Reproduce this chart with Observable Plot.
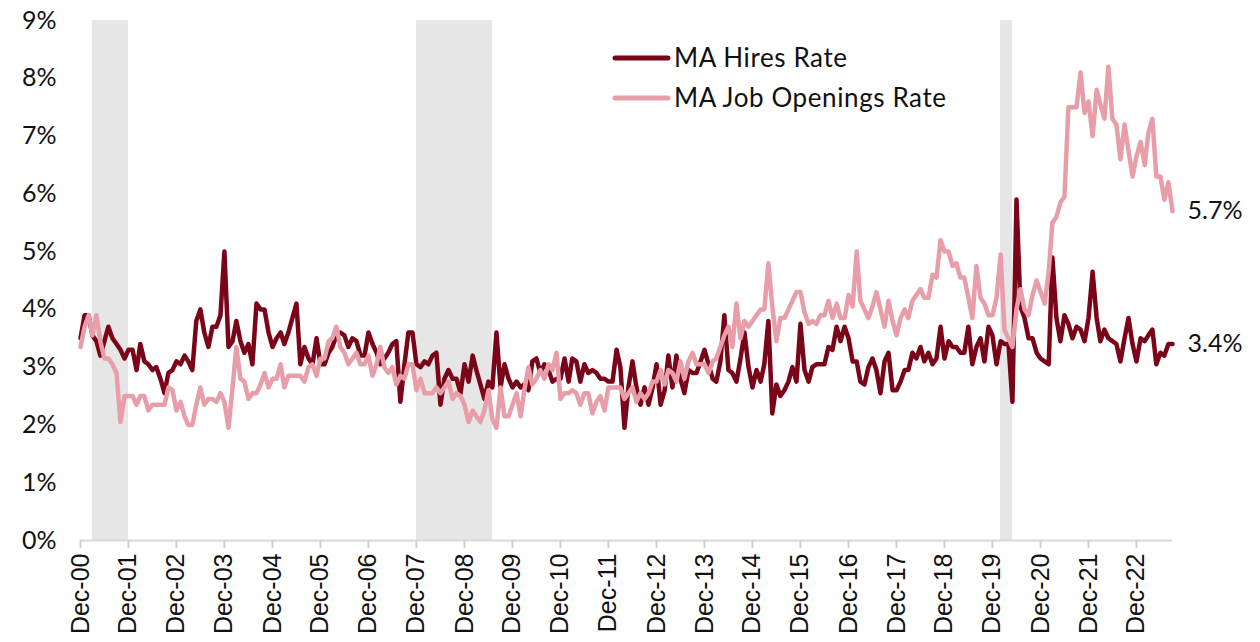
<!DOCTYPE html>
<html>
<head>
<meta charset="utf-8">
<script src="https://cdn.jsdelivr.net/npm/d3@7"></script>
<script src="https://cdn.jsdelivr.net/npm/@observablehq/plot@0.6"></script>
<style>
  body { margin: 0; background: #fff; }
  #chart svg { display: block; }
</style>
</head>
<body>
<div id="chart"></div>
<script>
// Monthly series, starting December 2000
const startYear = 2000, startMonth = 11; // Dec-2000 (0-based month)

const hires = [
  3.5, 3.9, 3.9, 3.55, 3.45, 3.2, 3.45, 3.7, 3.5, 3.4, 3.3, 3.15,
  3.3, 3.3, 2.95, 3.4, 3.1, 3.05, 2.95, 3.0, 2.8, 2.55, 2.9, 2.95,
  3.1, 3.05, 3.2, 3.1, 2.95, 3.8, 4.0, 3.6, 3.35, 3.7, 3.7, 3.9,
  5.0, 3.35, 3.45, 3.8, 3.45, 3.25, 3.4, 3.05, 4.1, 4.0, 4.0, 3.6,
  3.35, 3.5, 3.6, 3.4, 3.6, 3.85, 4.1, 3.05, 3.35, 3.15, 3.05, 3.5,
  3.05, 3.05, 3.25, 3.35, 3.55, 3.6, 3.55, 3.35, 3.5, 3.45, 3.2, 3.2,
  3.6, 3.4, 3.25, 3.05, 3.15, 3.25, 3.4, 3.45, 2.4, 3.05, 3.6, 3.6,
  3.05, 3.0, 3.1, 3.05, 3.2, 3.25, 2.35, 2.8, 2.95, 2.8, 2.8, 2.55,
  3.05, 2.75, 3.2, 2.95, 2.7, 2.45, 2.75, 2.65, 3.6, 2.65, 3.05, 2.8,
  2.65, 2.75, 2.65, 2.7, 2.6, 3.1, 3.15, 2.9, 3.05, 2.95, 2.75, 2.8,
  2.8, 3.15, 2.75, 3.15, 3.1, 2.75, 3.05, 2.9, 2.95, 2.9, 2.8, 2.8,
  2.75, 2.75, 3.3, 3.0, 1.95, 2.65, 3.1, 2.65, 2.35, 2.65, 2.35, 2.65,
  3.05, 2.35, 2.6, 3.2, 2.65, 3.2, 2.8, 2.55, 2.95, 2.9, 2.9, 3.1,
  3.3, 3.05, 2.8, 2.75, 3.1, 3.9, 2.95, 2.9, 2.75, 3.15, 3.6, 3.0,
  2.65, 2.95, 2.75, 3.05, 3.8, 2.2, 2.7, 2.5, 2.6, 2.75, 3.0, 2.75,
  3.75, 2.95, 2.75, 3.0, 3.05, 3.05, 3.05, 3.35, 3.3, 3.7, 3.45, 3.7,
  3.5, 3.1, 3.1, 2.75, 2.7, 3.0, 3.15, 2.95, 2.55, 3.1, 3.25, 2.6,
  2.6, 2.75, 2.95, 2.95, 3.25, 3.15, 3.35, 3.1, 3.25, 3.05, 3.15, 3.7,
  3.15, 3.45, 3.35, 3.35, 3.25, 3.25, 3.7, 3.05, 3.35, 3.5, 3.1, 3.7,
  3.55, 3.05, 3.45, 3.4, 3.4, 2.4, 5.9, 4.05, 3.85, 3.5, 3.5, 3.25,
  3.15, 3.1, 3.05, 4.9, 3.85, 3.45, 3.9, 3.75, 3.5, 3.7, 3.65, 3.45,
  3.85, 4.65, 3.85, 3.45, 3.65, 3.5, 3.45, 3.4, 3.1, 3.5, 3.85, 3.4,
  3.1, 3.5, 3.45, 3.55, 3.65, 3.05, 3.25, 3.2, 3.4, 3.4
];

const openings = [
  3.35, 3.7, 3.9, 3.55, 3.9, 3.45, 3.15, 3.15, 3.05, 2.9, 2.05, 2.5,
  2.5, 2.5, 2.35, 2.5, 2.5, 2.25, 2.35, 2.35, 2.35, 2.35, 2.65, 2.6,
  2.25, 2.4, 2.15, 2.0, 2.0, 2.35, 2.65, 2.35, 2.45, 2.45, 2.4, 2.55,
  2.4, 1.95, 2.65, 3.35, 2.8, 2.75, 2.45, 2.55, 2.55, 2.7, 2.9, 2.65,
  2.8, 2.8, 3.05, 2.65, 2.85, 2.85, 2.85, 2.85, 2.75, 3.0, 3.05, 2.85,
  3.15, 3.15, 3.45, 3.5, 3.7, 3.35, 3.25, 3.05, 3.15, 3.25, 3.05, 3.05,
  3.2, 2.85, 3.05, 3.35, 3.0, 2.9, 3.0, 2.7, 2.85, 2.8, 3.05, 3.05,
  2.6, 2.8, 2.55, 2.55, 2.55, 2.65, 2.55, 2.65, 2.75, 2.45, 2.55, 2.5,
  2.35, 2.05, 2.25, 2.15, 2.05, 2.25, 2.6, 2.1, 1.95, 2.65, 2.15, 2.15,
  2.35, 2.55, 2.15, 2.6, 3.0, 2.7, 2.8, 2.95, 2.8, 3.05, 2.95, 3.25,
  2.45, 2.55, 2.55, 2.6, 2.55, 2.35, 2.55, 2.55, 2.2, 2.4, 2.5, 2.25,
  2.65, 2.65, 2.65, 2.65, 2.45, 2.55, 2.65, 2.4, 2.55, 2.45, 2.55, 2.75,
  2.75, 2.95, 2.7, 2.95, 2.9, 2.75, 3.1, 2.8, 3.1, 3.25, 3.05, 3.05,
  3.05, 2.9, 3.1, 3.15, 3.35, 3.55, 3.7, 3.35, 4.1, 3.5, 3.8, 3.7,
  3.8, 3.9, 4.0, 4.0, 4.8, 4.05, 3.45, 3.85, 3.85, 4.0, 4.15, 4.3,
  4.3, 3.95, 3.75, 3.8, 3.75, 3.9, 3.9, 4.15, 3.85, 4.1, 3.85, 3.85,
  4.25, 4.05, 5.0, 4.15, 4.0, 3.85, 4.05, 4.3, 4.0, 3.7, 4.15, 3.8,
  3.55, 3.85, 4.0, 3.85, 4.15, 4.25, 4.35, 4.2, 4.2, 4.6, 4.55, 5.2,
  5.0, 5.0, 4.75, 4.8, 4.55, 4.55, 4.2, 3.85, 4.75, 4.2, 4.1, 3.9,
  3.9, 4.2, 4.95, 3.65, 3.5, 3.35, 4.0, 4.35, 4.0, 3.9, 4.25, 4.5,
  4.3, 4.1, 4.65, 5.5, 5.6, 5.85, 5.95, 7.5, 7.5, 7.5, 8.1, 7.4,
  7.6, 7.0, 7.8, 7.55, 7.3, 8.2, 7.3, 7.2, 6.6, 7.2, 6.75, 6.3,
  6.65, 6.9, 6.5, 7.05, 7.3, 6.3, 6.3, 5.9, 6.2, 5.7
];

const seriesNames = ["MA Hires Rate", "MA Job Openings Rate"];
const seriesColors = ["#7a0418", "#e89ea8"];

// Recession periods (start month, first month after end)
const recessionStart = ["2001-03", "2007-12", "2020-02"];
const recessionEnd   = ["2001-12", "2009-07", "2020-05"];

// Axis ticks
const yTicks = [0, 1, 2, 3, 4, 5, 6, 7, 8, 9];
const xTickYears = d3.range(2000, 2023);

// ---- build tables ----
const month = i => new Date(Date.UTC(startYear, startMonth + i, 1));
const parseYM = s => { const [y, m] = s.split("-").map(Number); return new Date(Date.UTC(y, m - 1, 1)); };
const hiresData = hires.map((v, i) => ({date: month(i), value: v}));
const openData = openings.map((v, i) => ({date: month(i), value: v}));
const recessions = recessionStart.map((s, i) => ({start: parseYM(s), end: parseYM(recessionEnd[i])}));
const xTicks = xTickYears.map(y => new Date(Date.UTC(y, 11, 1)));
const lastH = hiresData[hiresData.length - 1];
const lastO = openData[openData.length - 1];

const chart = Plot.plot({
  width: 1260,
  height: 642,
  marginLeft: 80,
  marginRight: 88,
  marginTop: 20,
  marginBottom: 102,
  style: {fontFamily: "Lato, 'DejaVu Sans', sans-serif", fontSize: "24px", color: "#111", background: "#fff"},
  x: {type: "utc", domain: [hiresData[0].date, lastH.date]},
  y: {domain: [0, 9]},
  marks: [
    Plot.rect(recessions, {x1: "start", x2: "end", y1: 0, y2: 9, fill: "#e6e6e6"}),
    Plot.ruleY([0], {stroke: "#d9d9d9", strokeWidth: 2}),
    Plot.axisX({
      ticks: xTicks,
      tickFormat: d => "Dec-" + String(d.getUTCFullYear() % 100).padStart(2, "0"),
      tickRotate: -90,
      tickSize: 8,
      tickPadding: 5,
      stroke: "#d0d0d0",
      strokeWidth: 2,
      fontSize: 25,
      fontFamily: "'Liberation Sans', Arial, sans-serif",
      fill: "#111",
      label: null
    }),
    Plot.axisY({
      ticks: yTicks,
      tickFormat: d => d + "%",
      tickSize: 0,
      tickPadding: 24,
      fontSize: 25,
      fill: "#111",
      label: null
    }),
    Plot.line(hiresData, {x: "date", y: "value", stroke: seriesColors[0], strokeWidth: 4.5, strokeLinejoin: "round", strokeLinecap: "round"}),
    Plot.line(openData, {x: "date", y: "value", stroke: seriesColors[1], strokeWidth: 4.5, strokeLinejoin: "round", strokeLinecap: "round"}),
    Plot.text([lastO, lastH], {x: "date", y: "value", text: d => d.value.toFixed(1) + "%", dx: 15, textAnchor: "start", fontSize: 25, fill: "#111"})
  ]
});

document.getElementById("chart").appendChild(chart);

// Legend drawn inside the SVG
const svg = d3.select(chart);
const lg = svg.append("g")
  .attr("font-family", "Lato, 'DejaVu Sans', sans-serif")
  .attr("font-size", 26)
  .attr("text-anchor", "start");
seriesNames.forEach((name, i) => {
  const y = 58 + i * 40;
  lg.append("line").attr("x1", 615).attr("x2", 668).attr("y1", y).attr("y2", y)
    .attr("stroke", seriesColors[i]).attr("stroke-width", 5).attr("stroke-linecap", "round");
  lg.append("text").attr("x", 674).attr("y", y).attr("dy", "0.35em")
    .attr("text-anchor", "start").attr("letter-spacing", "0.6px")
    .attr("fill", "#111").text(name);
});
</script>
</body>
</html>
